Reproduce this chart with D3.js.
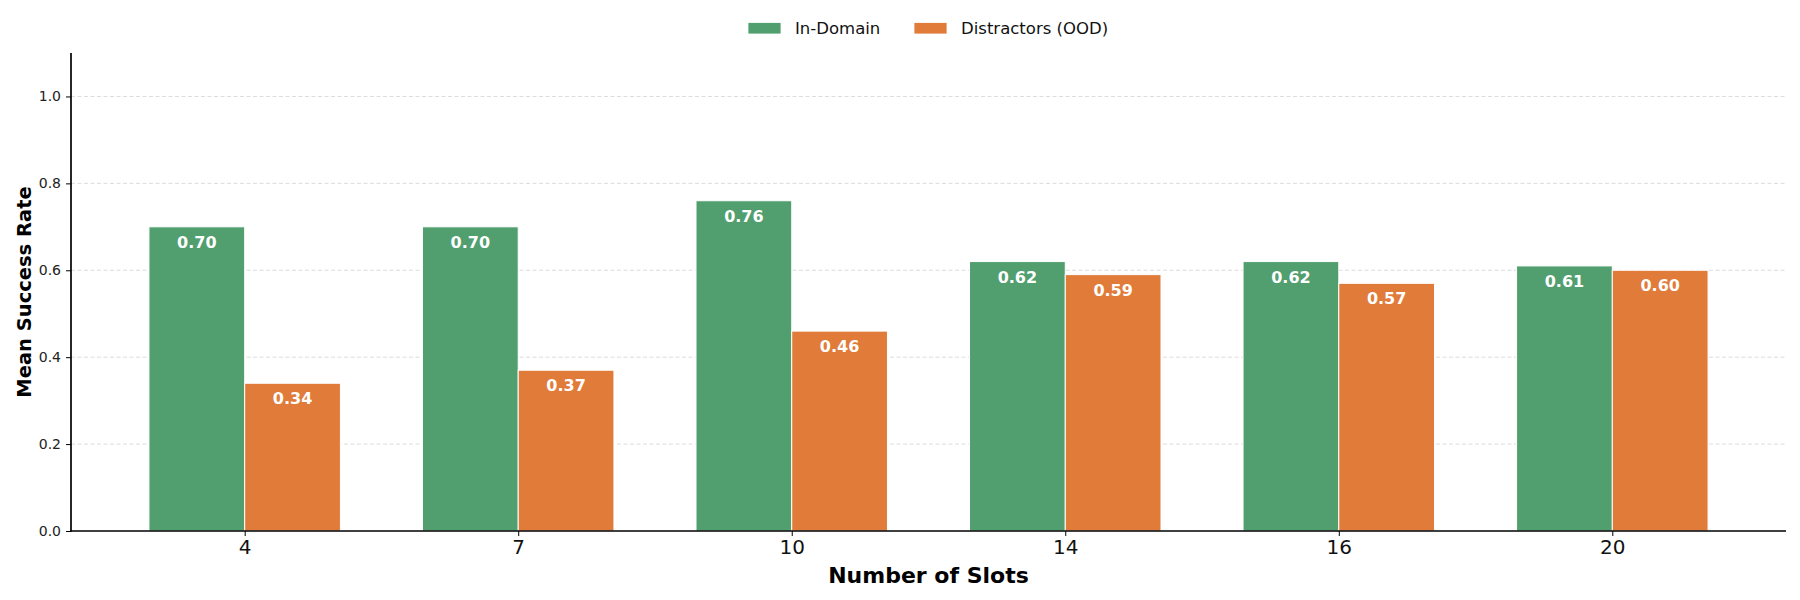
<!DOCTYPE html>
<html>
<head>
<meta charset="utf-8">
<script src="https://cdn.jsdelivr.net/npm/d3@7"></script>
<style>
  html, body { margin: 0; padding: 0; background: #fff; }
  svg { display: block; font-family: "DejaVu Sans", sans-serif; }
</style>
</head>
<body>
<svg id="chart" width="1800" height="600"></svg>
<script>
// chart data
const slots = ["4", "7", "10", "14", "16", "20"]
const inDomain = [0.70, 0.70, 0.76, 0.62, 0.62, 0.61]
const distractors = [0.34, 0.37, 0.46, 0.59, 0.57, 0.60]
const seriesNames = ["In-Domain", "Distractors (OOD)"]
const yTicks = [0.0, 0.2, 0.4, 0.6, 0.8, 1.0]

const colors = ["#519e6f", "#e07b39"]

// plot area
const plotLeft = 71, plotRight = 1786, plotTop = 53, plotBottom = 531
const barWidth = 0.35

const svg = d3.select("#chart")

const x = d3.scaleLinear()
    .domain([-0.635, slots.length - 1 + 0.635])
    .range([plotLeft, plotRight])

const y = d3.scaleLinear()
    .domain([0, 1.1])
    .range([plotBottom, plotTop])

// grid lines
svg.append("g")
    .selectAll("line")
    .data(yTicks.filter(d => d > 0))
    .join("line")
    .attr("x1", plotLeft)
    .attr("x2", plotRight)
    .attr("y1", d => y(d))
    .attr("y2", d => y(d))
    .attr("stroke", "#dcdcdc")
    .attr("stroke-width", 1)
    .attr("stroke-dasharray", "4,2.5")

// bars: two series side by side
const series = [inDomain, distractors]
series.forEach(function (vals, s) {
    const offset = s === 0 ? -barWidth : 0
    const g = svg.append("g")
    g.selectAll("rect")
        .data(vals)
        .join("rect")
        .attr("x", (d, i) => x(i + offset))
        .attr("width", x(barWidth) - x(0))
        .attr("y", d => y(d))
        .attr("height", d => y(0) - y(d))
        .attr("fill", colors[s])
        .attr("stroke", "#ffffff")
        .attr("stroke-width", 1)

    g.selectAll("text")
        .data(vals)
        .join("text")
        .attr("x", (d, i) => x(i + offset + barWidth / 2))
        .attr("y", d => y(d) + 21)
        .attr("text-anchor", "middle")
        .attr("fill", "#ffffff")
        .attr("font-weight", "bold")
        .attr("font-size", "16px")
        .text(d => d.toFixed(2))
})

// y axis
const yAxis = svg.append("g")
    .attr("transform", `translate(${plotLeft},0)`)
    .call(d3.axisLeft(y).tickValues(yTicks).tickFormat(d3.format(".1f")).tickSize(5).tickPadding(5))
yAxis.select(".domain").remove()
yAxis.selectAll(".tick line").attr("stroke", "#000").attr("stroke-width", 1)
yAxis.selectAll(".tick text").attr("font-size", "14px").attr("fill", "#222").attr("font-family", "DejaVu Sans")

// x axis
const xAxis = svg.append("g")
    .attr("transform", `translate(0,${plotBottom})`)
    .call(d3.axisBottom(x).tickValues(d3.range(slots.length)).tickFormat(i => slots[i]).tickSize(5).tickPadding(4))
xAxis.select(".domain").remove()
xAxis.selectAll(".tick line").attr("stroke", "#000").attr("stroke-width", 1)
xAxis.selectAll(".tick text").attr("font-size", "20px").attr("fill", "#111").attr("font-family", "DejaVu Sans")

// spines
svg.append("line")
    .attr("x1", plotLeft).attr("x2", plotLeft)
    .attr("y1", plotTop).attr("y2", plotBottom + 0.8)
    .attr("stroke", "#000").attr("stroke-width", 1.7)
svg.append("line")
    .attr("x1", plotLeft - 0.8).attr("x2", plotRight)
    .attr("y1", plotBottom).attr("y2", plotBottom)
    .attr("stroke", "#000").attr("stroke-width", 1.7)

// axis titles
svg.append("text")
    .attr("x", (plotLeft + plotRight) / 2)
    .attr("y", 583)
    .attr("text-anchor", "middle")
    .attr("font-weight", "bold")
    .attr("font-size", "22px")
    .text("Number of Slots")

svg.append("text")
    .attr("transform", `translate(31,${(plotTop + plotBottom) / 2}) rotate(-90)`)
    .attr("text-anchor", "middle")
    .attr("font-weight", "bold")
    .attr("font-size", "19.5px")
    .text("Mean Success Rate")

// legend
const legendX = [748, 914]
const legend = svg.append("g")
seriesNames.forEach(function (name, i) {
    legend.append("rect")
        .attr("x", legendX[i])
        .attr("y", 22.5)
        .attr("width", 33)
        .attr("height", 11.5)
        .attr("fill", colors[i])
        .attr("stroke", "#fff")
        .attr("stroke-width", 0.8)
    legend.append("text")
        .attr("x", legendX[i] + 47)
        .attr("y", 34)
        .attr("font-size", "16.5px")
        .attr("fill", "#111")
        .text(name)
})
</script>
</body>
</html>
